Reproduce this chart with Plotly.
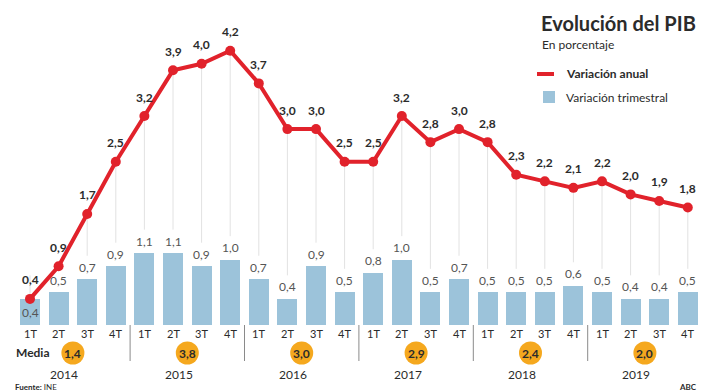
import plotly.graph_objects as go

# Quarterly GDP data, 2014-2019
years = ["2014", "2015", "2016", "2017", "2018", "2019"]
quarters = ["1T", "2T", "3T", "4T"]
anual = [0.4, 0.9, 1.7, 2.5, 3.2, 3.9, 4.0, 4.2, 3.7, 3.0, 3.0, 2.5,
         2.5, 3.2, 2.8, 3.0, 2.8, 2.3, 2.2, 2.1, 2.2, 2.0, 1.9, 1.8]
trimestral = [0.4, 0.5, 0.7, 0.9, 1.1, 1.1, 0.9, 1.0, 0.7, 0.4, 0.9, 0.5,
              0.8, 1.0, 0.5, 0.7, 0.5, 0.5, 0.5, 0.6, 0.5, 0.4, 0.4, 0.5]
media = [1.4, 3.8, 3.0, 2.9, 2.4, 2.0]

W, H = 701, 392
FONT = "Lato"
RED = "#e1222b"
BLUE = "#9cc3da"
ORANGE = "#f5a81e"
DARK = "#2b2b2b"
GREY = "#555555"

n = len(anual)
xs = list(range(n))
labels_q = [quarters[i % 4] for i in range(n)]


def fmt(v):
    return f"{v:.1f}".replace(".", ",")


def px_y(p):
    return 1 - p / H


def px_x(p):
    return p / W


def text(x, y, s, xref="paper", yref="paper", size=12, color=DARK, xanchor="center", **kw):
    return dict(x=x, y=y, xref=xref, yref=yref, text=s, showarrow=False,
                xanchor=xanchor, yanchor="middle",
                font=dict(family=FONT, size=size, color=color), **kw)


# axis scale: 28.6 px per quarter, 65.3 px per percentage point
x_step, y_unit = 28.6, 65.3
x0_px, zero_px = 30, 325
x_range = [-x0_px / x_step, (W - x0_px) / x_step]
y_range = [-(H - zero_px) / y_unit, zero_px / y_unit]

fig = go.Figure()

# thin guides from each line point down towards its bar label
shapes = []
for i in xs:
    shapes.append(dict(type="line", xref="x", yref="y", x0=i, x1=i,
                       y0=anual[i], y1=trimestral[i] + 0.36,
                       line=dict(color="#e2e2e2", width=1), layer="below"))

fig.add_trace(go.Bar(x=xs, y=trimestral, width=0.7, marker_color=BLUE,
                     marker_line_width=0, showlegend=False, hoverinfo="skip"))
fig.add_trace(go.Scatter(x=xs, y=anual, mode="lines+markers",
                         line=dict(color=RED, width=4),
                         marker=dict(color=RED, size=10),
                         showlegend=False, hoverinfo="skip"))

ann = []
# line value labels
for i in xs:
    ann.append(text(i, anual[i], f"<b>{fmt(anual[i])}</b>", xref="x", yref="y", yshift=19))
# bar value labels (the first one sits inside its bar)
for i in xs:
    shift = -14 if i == 0 else 12
    ann.append(text(i, trimestral[i], fmt(trimestral[i]), xref="x", yref="y",
                    color=GREY, yshift=shift))
# quarter labels
for i in xs:
    ann.append(text(i, px_y(333), labels_q[i], xref="x", size=11))

# year separators
for k in range(1, len(years)):
    xv = 4 * k - 0.5
    shapes.append(dict(type="line", xref="x", yref="paper", x0=xv, x1=xv,
                       y0=px_y(325), y1=px_y(361), line=dict(color="#8a8a8a", width=1)))

# average circles and year labels
for k, (yr, m) in enumerate(zip(years, media)):
    xc = 4 * k + 1.5
    shapes.append(dict(type="circle", xref="x", yref="paper", xsizemode="pixel",
                       ysizemode="pixel", xanchor=xc, yanchor=px_y(353),
                       x0=-11.5, x1=11.5, y0=-11.5, y1=11.5,
                       fillcolor=ORANGE, line=dict(width=0)))
    ann.append(text(xc, px_y(353), f"<b>{fmt(m)}</b>", xref="x"))
    ann.append(text(4 * k + 1.2, px_y(374), yr, xref="x"))

ann.append(text(px_x(14), px_y(352), "<b>Media</b>", xanchor="left"))
ann.append(text(px_x(13), px_y(387), "<b>Fuente:</b> INE", xanchor="left", size=8))
ann.append(text(px_x(699), px_y(387), "<b>ABC</b>", xanchor="right", size=8))

# title block and legend
ann.append(text(px_x(539), px_y(23), "<b>Evolución del PIB</b>", xanchor="left", size=20))
ann.append(text(px_x(540), px_y(45), "En porcentaje", xanchor="left"))
shapes.append(dict(type="line", xref="paper", yref="paper", x0=px_x(537), x1=px_x(554),
                   y0=px_y(74), y1=px_y(74), line=dict(color=RED, width=4)))
ann.append(text(px_x(564), px_y(73), "<b>Variación anual</b>", xanchor="left"))
shapes.append(dict(type="rect", xref="paper", yref="paper", x0=px_x(543), x1=px_x(555),
                   y0=px_y(103), y1=px_y(91), fillcolor=BLUE, line=dict(width=0)))
ann.append(text(px_x(564), px_y(97), "Variación trimestral", xanchor="left"))

fig.update_layout(
    width=W, height=H, margin=dict(l=0, r=0, t=0, b=0),
    paper_bgcolor="white", plot_bgcolor="white",
    xaxis=dict(range=x_range, visible=False, fixedrange=True),
    yaxis=dict(range=y_range, visible=False, fixedrange=True),
    shapes=shapes, annotations=ann, bargap=0,
)

fig.write_html("out.html")
